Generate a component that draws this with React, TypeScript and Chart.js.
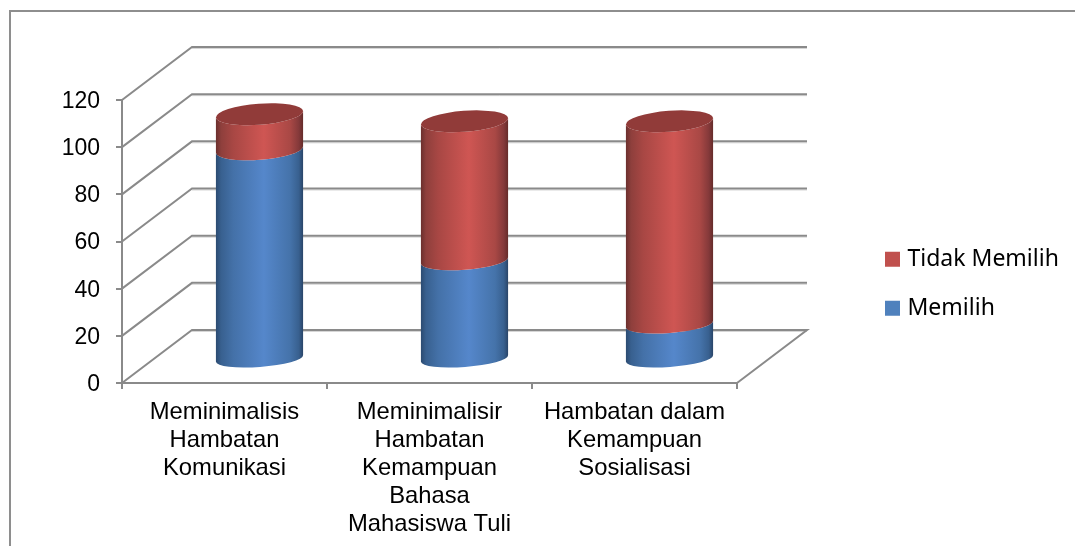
import React, { useEffect, useRef } from "react";
import { Chart, registerables } from "chart.js";

Chart.register(...registerables);

const categories: string[][] = [
  ["Meminimalisis", "Hambatan", "Komunikasi"],
  ["Meminimalisir", "Hambatan", "Kemampuan", "Bahasa", "Mahasiswa Tuli"],
  ["Hambatan dalam", "Kemampuan", "Sosialisasi"],
];
const memilih = [89, 42, 15];
const tidakMemilih = [15, 59, 86];
const yTicks = { min: 0, max: 120, stepSize: 20 };

const LINE = "#8a8a8a";
const DEPTH_X = 70;
const DEPTH_Y = 53;
const CYL_DX = 35;
const CYL_DY = -23.5;
const TILT = Math.atan(-6.5 / 87);

const blueStops: [number, string][] = [
  [0, "#2b4a70"], [0.06, "#38608f"], [0.2, "#4471a8"], [0.55, "#5587cb"], [0.85, "#4573aa"], [0.95, "#38608f"], [1, "#294467"],
];
const redStops: [number, string][] = [
  [0, "#6a2f2d"], [0.06, "#8e3f3c"], [0.2, "#a84744"], [0.55, "#cf5653"], [0.85, "#a94845"], [0.95, "#84393a"], [1, "#642b29"],
];
const capColor = "#913b39";

const wallPlugin = {
  id: "walls",
  beforeDraw(chart: any) {
    const { ctx, width, height } = chart;
    ctx.save();
    ctx.strokeStyle = "#8e8e8e";
    ctx.lineWidth = 2;
    ctx.beginPath();
    ctx.moveTo(10, height);
    ctx.lineTo(10, 11);
    ctx.lineTo(width, 11);
    ctx.stroke();
    ctx.restore();
  },
  beforeDatasetsDraw(chart: any) {
    const { ctx, chartArea, scales } = chart;
    const { left, right } = chartArea;
    ctx.save();
    scales.y.ticks.forEach((t: any) => {
      const y = scales.y.getPixelForValue(t.value);
      // soft highlight under the back-wall line
      ctx.strokeStyle = "#d6d6d6";
      ctx.lineWidth = 1;
      ctx.beginPath();
      ctx.moveTo(left + DEPTH_X, y - DEPTH_Y + 1.5);
      ctx.lineTo(right + DEPTH_X, y - DEPTH_Y + 1.5);
      ctx.stroke();
      ctx.strokeStyle = LINE;
      ctx.lineWidth = 2;
      ctx.beginPath();
      ctx.moveTo(left, y);
      ctx.lineTo(left + DEPTH_X, y - DEPTH_Y);
      ctx.lineTo(right + DEPTH_X, y - DEPTH_Y);
      if (t.value === yTicks.min) ctx.lineTo(right, y);
      ctx.stroke();
    });
    ctx.restore();
  },
  beforeDatasetDraw() {
    return false;
  },
  afterDatasetsDraw(chart: any) {
    const { ctx } = chart;
    const count = chart.data.datasets.length;
    const ryAt = (y: number) => 8.5 + ((359 - y) / 240) * 2;
    for (let d = 0; d < count; d++) {
      const meta = chart.getDatasetMeta(d);
      const stops = d === 0 ? blueStops : redStops;
      meta.data.forEach((bar: any) => {
        const cx = bar.x + CYL_DX;
        const yTop = bar.y + CYL_DY;
        const yBase = bar.base + CYL_DY;
        const rx = bar.width / 2 + 0.2;
        const grad = ctx.createLinearGradient(cx - rx, 0, cx + rx, 0);
        stops.forEach(([o, c]) => grad.addColorStop(o, c));
        ctx.save();
        ctx.fillStyle = grad;
        ctx.beginPath();
        ctx.ellipse(cx, yTop, rx, ryAt(yTop), TILT, Math.PI, 0, true);
        ctx.ellipse(cx, yBase, rx, ryAt(yBase), TILT, 0, Math.PI, false);
        ctx.closePath();
        ctx.fill();
        if (d === count - 1) {
          ctx.fillStyle = capColor;
          ctx.beginPath();
          ctx.ellipse(cx, yTop, rx, ryAt(yTop), TILT, 0, Math.PI * 2);
          ctx.fill();
        }
        ctx.restore();
      });
    }
  },
  afterLayout(chart: any) {
    const l = chart.legend;
    l.left = 863;
    l.right = 1075;
    l.top = 150;
    l.bottom = 417.4;
    l.width = 212;
    l.height = 267.4;
  },
};

export default function App() {
  const ref = useRef<HTMLCanvasElement>(null);
  useEffect(() => {
    document.body.style.margin = "0";
    const axisFamily = "'Liberation Sans', Arial, sans-serif";
    const chart = new Chart(ref.current!, {
      type: "bar",
      data: {
        labels: categories as any,
        datasets: [
          { label: "Memilih", data: memilih, backgroundColor: "#4f81bd", borderColor: "#4f81bd", borderWidth: 8 },
          { label: "Tidak Memilih", data: tidakMemilih, backgroundColor: "#c0504d", borderColor: "#c0504d", borderWidth: 8 },
        ],
      },
      options: {
        responsive: false,
        animation: false,
        layout: { padding: { left: 0, top: 100, right: 338, bottom: 0 } },
        datasets: { bar: { barThickness: 87 } },
        scales: {
          x: {
            stacked: true,
            afterFit(s: any) { s.height = 163; },
            border: { display: true, color: LINE, width: 2 },
            grid: { offset: true, drawOnChartArea: false, drawTicks: true, tickLength: 6, color: LINE, lineWidth: 2 },
            ticks: {
              color: "#000",
              font: { family: axisFamily, size: 23.8, lineHeight: 1.168 },
              maxRotation: 0,
              minRotation: 0,
              autoSkip: false,
              padding: 10,
            },
          },
          y: {
            stacked: true,
            min: yTicks.min,
            max: yTicks.max,
            afterFit(s: any) { s.width = 122; },
            border: { display: true, color: LINE, width: 2 },
            grid: { drawOnChartArea: false, drawTicks: true, tickLength: 6, color: LINE, lineWidth: 2 },
            ticks: { stepSize: yTicks.stepSize, color: "#000", font: { family: axisFamily, size: 23 }, padding: 16, labelOffset: 1.5 },
          },
        },
        plugins: {
          tooltip: { enabled: false },
          legend: {
            display: true,
            position: "chartArea" as any,
            align: "center",
            reverse: true,
            labels: {
              boxWidth: 7,
              boxHeight: 7,
              padding: 26,
              color: "#000",
              font: { family: "'Noto Sans', sans-serif", size: 23 },
            },
          },
        },
      },
      plugins: [wallPlugin],
    });
    return () => chart.destroy();
  }, []);
  return <canvas ref={ref} width={1075} height={546} style={{ display: "block" }} />;
}
